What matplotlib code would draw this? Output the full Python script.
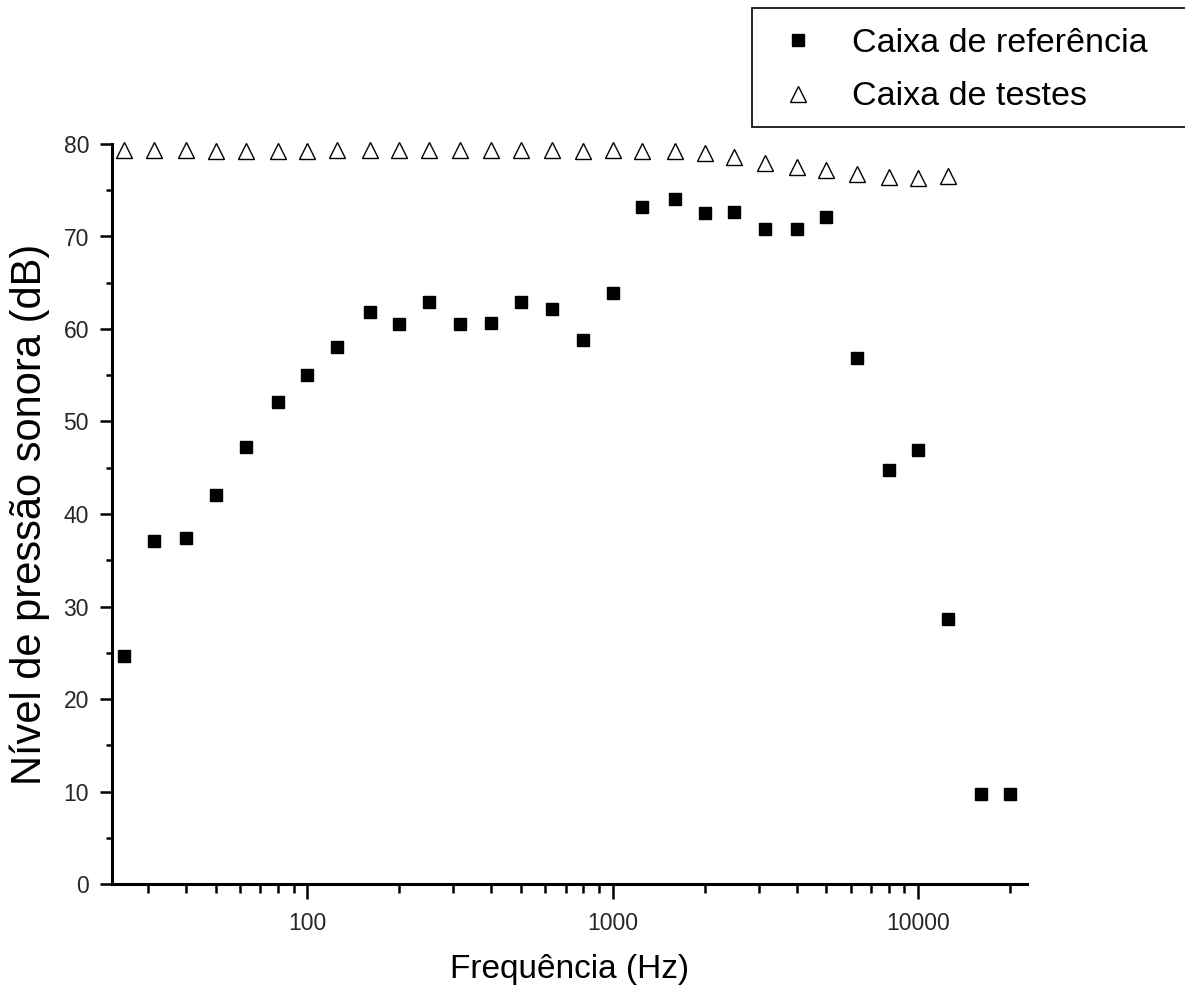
import matplotlib
matplotlib.use("Agg")
import matplotlib.pyplot as plt
from matplotlib.ticker import FixedLocator, NullFormatter, MultipleLocator
from matplotlib.patches import Rectangle

plt.rcParams['font.family'] = ['Liberation Sans', 'DejaVu Sans']

freqs = [25, 31.5, 40, 50, 63, 80, 100, 125, 160, 200, 250, 315, 400, 500, 630,
         800, 1000, 1250, 1600, 2000, 2500, 3150, 4000, 5000, 6300, 8000, 10000,
         12500, 16000, 20000]
ref_db = [24.6, 37.1, 37.4, 42.1, 47.2, 52.1, 55.0, 58.1, 61.8, 60.5, 62.9, 60.5,
          60.7, 62.9, 62.2, 58.8, 63.9, 73.2, 74.0, 72.5, 72.6, 70.8, 70.8, 72.1,
          56.9, 44.8, 46.9, 28.7, 9.7, 9.7]
test_freqs = freqs[:28]
test_db = [79.3, 79.4, 79.4, 79.2, 79.2, 79.2, 79.2, 79.4, 79.4, 79.4, 79.4, 79.4,
           79.4, 79.4, 79.3, 79.2, 79.3, 79.2, 79.2, 79.0, 78.6, 77.9, 77.5, 77.2,
           76.8, 76.4, 76.3, 76.5]

xlabel = "Frequência (Hz)"
ylabel = "Nível de pressão sonora (dB)"
labels = ["Caixa de referência", "Caixa de testes"]
xmajor = [100, 1000, 10000]
xmajor_labels = ["100", "1000", "10000"]

W, H = 1185, 1005
fig = plt.figure(figsize=(W / 100, H / 100), dpi=100)
ax = fig.add_axes([112 / W, 121 / H, (1027 - 112) / W, (884 - 144) / H])

h1, = ax.plot(freqs, ref_db, linestyle='none', marker='s', markersize=9,
              color='black', clip_on=False, label=labels[0])
h2, = ax.plot(test_freqs, test_db, linestyle='none', marker='^', markersize=12,
              markerfacecolor='white', markeredgecolor='black', markeredgewidth=1.0,
              clip_on=False, label=labels[1])

ax.set_xscale('log')
ax.set_xlim(22.9, 22700)
ax.set_ylim(0, 80)

ax.xaxis.set_major_locator(FixedLocator(xmajor))
ax.set_xticklabels(xmajor_labels)
minor = [m * 10 ** d for d in range(1, 5) for m in range(2, 10)]
ax.xaxis.set_minor_locator(FixedLocator(minor))
ax.xaxis.set_minor_formatter(NullFormatter())
ax.yaxis.set_major_locator(MultipleLocator(10))
ax.yaxis.set_minor_locator(MultipleLocator(5))

for s in ['top', 'right']:
    ax.spines[s].set_visible(False)
for s in ['left', 'bottom']:
    ax.spines[s].set_linewidth(2.2)

ax.tick_params(axis='x', which='major', direction='out', length=11, width=1.8,
               labelsize=16.5, pad=9, labelcolor='#262626')
ax.tick_params(axis='x', which='minor', direction='out', length=6.5, width=1.8)
ax.tick_params(axis='y', which='major', direction='out', length=8.5, width=1.8,
               labelsize=16.5, pad=8, labelcolor='#262626')
ax.tick_params(axis='y', which='minor', direction='out', length=4.5, width=1.8)

ax.set_xlabel(xlabel, fontsize=24, labelpad=14)
ax.set_ylabel(ylabel, fontsize=30, labelpad=10)

fig.patches.append(Rectangle((752 / W, 1 - 127 / H), 0.5, (127 - 8) / H,
                             transform=fig.transFigure, facecolor='white',
                             edgecolor='black', linewidth=1.2))
fig.legend(handles=[h1, h2], labels=labels, loc='upper left',
           bbox_to_anchor=(772 / W, 1 - 28 / H), frameon=False, fontsize=24.5,
           handlelength=1.5, handletextpad=0.85, borderpad=0, labelspacing=0.66,
           borderaxespad=0)

fig.savefig("out.png", dpi=100)
